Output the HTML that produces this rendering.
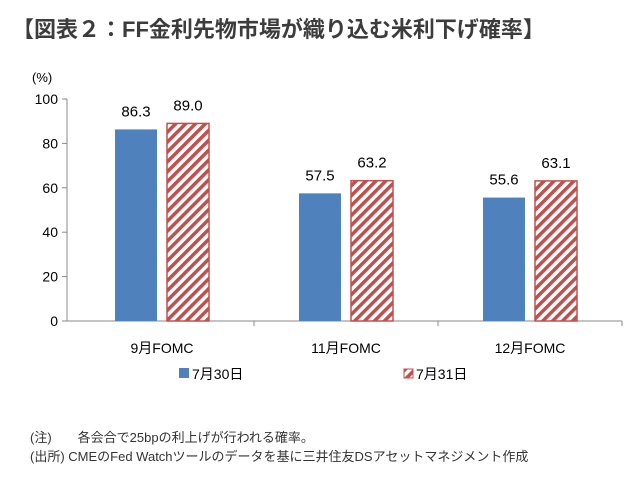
<!DOCTYPE html>
<html><head><meta charset="utf-8">
<style>
body{margin:0;background:#fff;width:640px;height:481px;overflow:hidden;font-family:"Liberation Sans","Noto Sans CJK JP",sans-serif;}
svg text{font-family:"Liberation Sans","Noto Sans CJK JP",sans-serif;}
</style></head>
<body>
<svg width="640" height="481">
<defs>
<pattern id="hatch" patternUnits="userSpaceOnUse" width="7" height="7" patternTransform="rotate(45)">
<rect width="7" height="7" fill="#fff"/>
<rect width="3.5" height="7" fill="#c0504d"/>
</pattern>
</defs>
<text x="12" y="37" font-size="22" font-weight="bold" fill="#3c3c3c">【図表２：FF金利先物市場が織り込む米利下げ確率】</text>
<text x="32" y="82" font-size="13" fill="#000">(%)</text>
<g id="axes"></g>
<g id="bars"></g>
<g>
<rect x="179" y="368" width="10" height="10" fill="#4f81bd"/>
<text x="192" y="379" font-size="14">7月30日</text>
<rect x="404" y="369" width="9" height="9" fill="url(#hatch)" stroke="#c0504d"/>
<text x="416" y="379" font-size="14">7月31日</text>
</g>
<text x="30" y="442" font-size="13" fill="#333">(注)　　各会合で25bpの利上げが行われる確率。</text>
<text x="30" y="461" font-size="13" fill="#333">(出所)  CMEのFed Watchツールのデータを基に三井住友DSアセットマネジメント作成</text>
</svg>
<script>
const categories=["9月FOMC","11月FOMC","12月FOMC"];
const seriesJul30=[86.3,57.5,55.6];
const seriesJul31=[89.0,63.2,63.1];
const yTicks=[0,20,40,60,80,100];
const NS="http://www.w3.org/2000/svg";
const x0=67,xc=70,x1=622,yBase=321,yTop=99;
const bw=(x1-xc)/categories.length;
function y(v){return yBase-(v/100)*(yBase-yTop);}
function mk(tag,attrs,parent){const e=document.createElementNS(NS,tag);for(const k in attrs)e.setAttribute(k,attrs[k]);parent.appendChild(e);return e;}
const ax=document.getElementById('axes'),bars=document.getElementById('bars');
let l=mk('line',{x1:x0,y1:yTop,x2:x0,y2:yBase,stroke:'#888'},ax);


l=mk('line',{x1:x0,y1:yBase,x2:x1,y2:yBase,stroke:'#888'},ax);


yTicks.forEach(t=>{
 const tk=mk('line',{x1:x0-5,y1:y(t),x2:x0,y2:y(t),stroke:'#888'},ax);
 
 
 const tx=mk('text',{x:x0-9,y:y(t)+5,'font-size':14,'text-anchor':'end'},ax);
 tx.textContent=t;
 
 
});
for(let i=1;i<=categories.length;i++){
 const tk=mk('line',{x1:xc+i*bw,y1:yBase,x2:xc+i*bw,y2:yBase+5,stroke:'#888'},ax);
 
 
}
categories.forEach((c,i)=>{
 const cx=xc+bw*(i+0.5);
 const t=mk('text',{x:cx,y:353,'font-size':14,'text-anchor':'middle'},ax);
 t.textContent=c;
 
 
 [[seriesJul30[i],'#4f81bd',cx-47,'bar-jul30'],[seriesJul31[i],'url(#hatch)',cx+5,'bar-jul31']].forEach(([v,f,bx,n])=>{
  const r=mk('rect',{x:bx,y:y(v),width:42,height:yBase-y(v),fill:f},bars);
  if(f!=='#4f81bd'){r.setAttribute('stroke','#c0504d');r.setAttribute('stroke-width','1.5');}
  
  
  const lb=mk('text',{x:bx+21,y:y(v)-13,'font-size':15,'text-anchor':'middle'},bars);
  lb.textContent=v.toFixed(1);
  
  
 });
});
</script>
</body></html>
